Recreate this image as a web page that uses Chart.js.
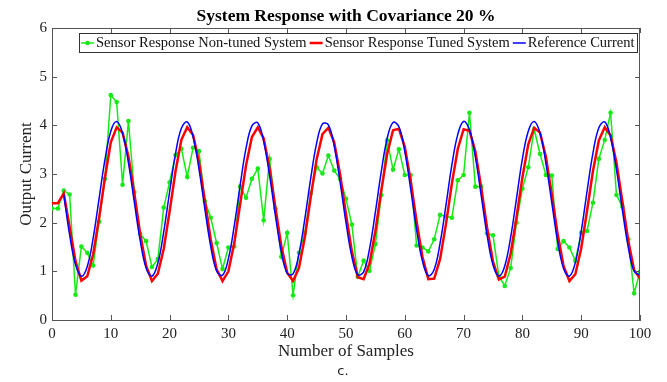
<!DOCTYPE html>
<html>
<head>
<meta charset="utf-8">
<script src="https://cdn.jsdelivr.net/npm/chart.js@4/dist/chart.umd.min.js"></script>
<style>
  html, body { margin: 0; padding: 0; background: #fff; }
  #wrap { width: 667px; height: 382px; }
</style>
</head>
<body>
<div id="wrap"><canvas id="chart" width="667" height="382"></canvas></div>
<script>
// data (sumbu x = sampel ke-0 s/d 100)
const chartTitle = 'System Response with Covariance 20 %';
const xLabel = 'Number of Samples';
const yLabel = 'Output Current';
const caption = 'c.';

const nonTuned = [
  2.29, 2.29, 2.66, 2.58, 0.52, 1.51, 1.38, 1.12, 2.02, 2.90,
  4.62, 4.48, 2.78, 4.09, 2.63, 1.77, 1.62, 1.09, 1.25, 2.31,
  2.83, 3.39, 3.52, 2.94, 3.54, 3.47, 2.44, 2.10, 1.58, 1.05,
  1.49, 1.51, 2.74, 2.51, 2.90, 3.11, 2.05, 3.31, 2.29, 1.30,
  1.79, 0.51, 1.38, 1.79, 2.60, 3.14, 3.01, 3.38, 3.07, 2.90,
  2.49, 1.96, 0.89, 1.22, 1.01, 1.56, 2.57, 3.69, 3.09, 3.51,
  2.98, 2.98, 1.53, 1.49, 1.41, 1.66, 2.16, 2.13, 2.10, 2.87,
  2.98, 4.26, 2.74, 2.74, 1.78, 1.74, 0.90, 0.70, 1.07, 2.00,
  2.70, 3.14, 3.92, 3.41, 2.98, 2.97, 1.46, 1.62, 1.49, 1.22,
  1.79, 1.83, 2.41, 3.31, 3.70, 4.26, 2.57, 2.33, 1.66, 0.55,
  0.99
];

const tuned = [
  2.40, 2.40, 2.60, 1.91, 1.21, 0.81, 0.90, 1.35, 2.09, 2.92,
  3.65, 3.96, 3.85, 3.36, 2.60, 1.77, 1.12, 0.80, 0.95, 1.46,
  2.23, 3.05, 3.70, 3.96, 3.80, 3.24, 2.45, 1.65, 1.04, 0.80,
  1.00, 1.58, 2.38, 3.18, 3.76, 3.96, 3.73, 3.12, 2.31, 1.52,
  0.97, 0.80, 1.07, 1.70, 2.52, 3.30, 3.82, 3.95, 3.65, 2.99,
  2.17, 1.41, 0.88, 0.84, 1.16, 1.83, 2.66, 3.41, 3.90, 3.93,
  3.56, 2.86, 2.03, 1.30, 0.84, 0.85, 1.25, 1.97, 2.80, 3.51,
  3.92, 3.89, 3.46, 2.72, 1.89, 1.20, 0.83, 0.89, 1.36, 2.11,
  2.93, 3.61, 3.95, 3.85, 3.35, 2.58, 1.76, 1.11, 0.80, 0.94,
  1.47, 2.25, 3.06, 3.69, 3.96, 3.79, 3.23, 2.44, 1.63, 1.03,
  0.85
];

const reference = [
  null, null, 2.58, 1.75, 1.14, 0.90, 1.10, 1.68, 2.49, 3.29,
  3.88, 4.08, 3.84, 3.23, 2.42, 1.63, 1.07, 0.90, 1.17, 1.81,
  2.63, 3.41, 3.94, 4.07, 3.76, 3.10, 2.28, 1.51, 1.01, 0.92,
  1.26, 1.94, 2.77, 3.53, 3.99, 4.05, 3.67, 2.97, 2.14, 1.40,
  0.96, 0.95, 1.36, 2.08, 2.91, 3.63, 4.03, 4.01, 3.57, 2.83,
  2.00, 1.30, 0.93, 0.99, 1.46, 2.22, 3.05, 3.73, 4.06, 3.97,
  3.46, 2.69, 1.86, 1.21, 0.91, 1.04, 1.58, 2.36, 3.18, 3.81,
  4.08, 3.91, 3.35, 2.55, 1.74, 1.13, 0.90, 1.11, 1.70, 2.50,
  3.31, 3.88, 4.08, 3.84, 3.22, 2.41, 1.61, 1.06, 0.90, 1.18,
  1.82, 2.65, 3.43, 3.95, 4.07, 3.75, 3.09, 2.26, 1.50, 1.00,
  0.92
];

const xTicks = [0, 10, 20, 30, 40, 50, 60, 70, 80, 90, 100];
const yTicks = [0, 1, 2, 3, 4, 5, 6];

const seriesNames = ['Sensor Response Non-tuned System', 'Sensor Response Tuned System', 'Reference Current'];
const seriesColors = ['rgb(20,235,20)', 'rgb(255,0,0)', 'rgb(0,0,255)'];

const serif = '"Liberation Serif", "Times New Roman", serif';
const axisColor = '#555';

function toPoints(arr) {
    return arr.map((v, i) => ({ x: i, y: v }));
}

// plugin untuk judul, kotak sumbu, tick ke dalam, legend dan caption
const frameAndLegend = {
    id: 'frameAndLegend',
    afterDraw(chart) {
        const ctx = chart.ctx;
        const area = chart.chartArea;
        const xs = chart.scales.x;
        const ys = chart.scales.y;

        ctx.save();
        // garis atas dan kanan
        ctx.strokeStyle = axisColor;
        ctx.lineWidth = 1;
        ctx.beginPath();
        ctx.moveTo(area.left, area.top + 0.5);
        ctx.lineTo(area.right, area.top + 0.5);
        ctx.moveTo(area.right - 0.5, area.top);
        ctx.lineTo(area.right - 0.5, area.bottom);
        ctx.stroke();

        // tick ke dalam
        ctx.beginPath();
        xTicks.forEach(t => {
            const px = Math.round(xs.getPixelForValue(t)) + 0.5;
            ctx.moveTo(px, area.bottom);
            ctx.lineTo(px, area.bottom - 5);
            ctx.moveTo(px, area.top);
            ctx.lineTo(px, area.top + 5);
        });
        yTicks.forEach(t => {
            const py = Math.round(ys.getPixelForValue(t)) + 0.5;
            ctx.moveTo(area.left, py);
            ctx.lineTo(area.left + 5, py);
            ctx.moveTo(area.right, py);
            ctx.lineTo(area.right - 5, py);
        });
        ctx.stroke();

        // judul
        ctx.fillStyle = '#000';
        ctx.font = 'bold 17.5px ' + serif;
        ctx.textAlign = 'center';
        ctx.textBaseline = 'alphabetic';
        ctx.fillText(chartTitle, (area.left + area.right) / 2, 21);

        // legend
        const boxLeft = 79, boxRight = 637, boxTop = 33, boxBottom = 52;
        ctx.fillStyle = '#fff';
        ctx.fillRect(boxLeft, boxTop, boxRight - boxLeft, boxBottom - boxTop);
        ctx.strokeStyle = '#333';
        ctx.strokeRect(boxLeft + 0.5, boxTop + 0.5, boxRight - boxLeft, boxBottom - boxTop);

        ctx.font = '14.5px ' + serif;
        ctx.textAlign = 'left';
        ctx.textBaseline = 'middle';
        const midY = (boxTop + boxBottom) / 2 + 0.5;
        let cx = boxLeft + 2;
        seriesNames.forEach((name, i) => {
            ctx.strokeStyle = seriesColors[i];
            ctx.lineWidth = i === 1 ? 2.5 : 1.5;
            ctx.beginPath();
            ctx.moveTo(cx, midY);
            ctx.lineTo(cx + 13, midY);
            ctx.stroke();
            if (i === 0) {
                ctx.fillStyle = seriesColors[i];
                ctx.beginPath();
                ctx.arc(cx + 6.5, midY, 2.2, 0, Math.PI * 2);
                ctx.fill();
            }
            ctx.fillStyle = '#111';
            ctx.fillText(name, cx + 15, midY);
            cx += 15 + ctx.measureText(name).width + 3;
        });

        // caption bawah
        ctx.font = '13px "DejaVu Sans", sans-serif';
        ctx.textAlign = 'center';
        ctx.fillStyle = '#222';
        ctx.fillText(caption, 343, 372);
        ctx.restore();
    }
};

const ctx = document.getElementById('chart').getContext('2d');
const chart = new Chart(ctx, {
    type: 'line',
    data: {
        datasets: [{
            label: seriesNames[0],
            data: toPoints(nonTuned),
            borderColor: seriesColors[0],
            backgroundColor: seriesColors[0],
            borderWidth: 1.5,
            pointRadius: 2.3,
            pointBorderWidth: 0,
            tension: 0,
            order: 3
        }, {
            label: seriesNames[1],
            data: toPoints(tuned),
            borderColor: seriesColors[1],
            backgroundColor: seriesColors[1],
            borderWidth: 2.5,
            pointRadius: 0,
            tension: 0,
            order: 2
        }, {
            label: seriesNames[2],
            data: toPoints(reference),
            borderColor: seriesColors[2],
            backgroundColor: seriesColors[2],
            borderWidth: 1.5,
            pointRadius: 0,
            tension: 0.4,
            order: 1
        }]
    },
    options: {
        responsive: false,
        animation: false,
        layout: { padding: { left: 0, right: 27, top: 28, bottom: 0 } },
        plugins: {
            legend: { display: false },
            tooltip: { enabled: false },
            title: { display: false }
        },
        scales: {
            x: {
                type: 'linear',
                min: 0,
                max: 100,
                afterBuildTicks: scale => { scale.ticks = xTicks.map(v => ({ value: v })); },
                afterFit: scale => { scale.height = 62; },
                grid: { display: false, drawTicks: false },
                border: { display: true, color: axisColor, width: 1 },
                ticks: {
                    padding: 5,
                    color: '#222',
                    maxRotation: 0,
                    font: { family: serif, size: 15 }
                },
                title: {
                    display: true,
                    text: xLabel,
                    color: '#222',
                    padding: { top: 0, bottom: 20 },
                    font: { family: serif, size: 17 }
                }
            },
            y: {
                min: 0,
                max: 6,
                afterBuildTicks: scale => { scale.ticks = yTicks.map(v => ({ value: v })); },
                afterFit: scale => { scale.width = 52; },
                grid: { display: false, drawTicks: false },
                border: { display: true, color: axisColor, width: 1 },
                ticks: {
                    padding: 5,
                    color: '#222',
                    font: { family: serif, size: 15 }
                },
                title: {
                    display: true,
                    text: yLabel,
                    color: '#222',
                    padding: { top: 16, bottom: 0 },
                    font: { family: serif, size: 17 }
                }
            }
        }
    },
    plugins: [frameAndLegend]
});
</script>
</body>
</html>
